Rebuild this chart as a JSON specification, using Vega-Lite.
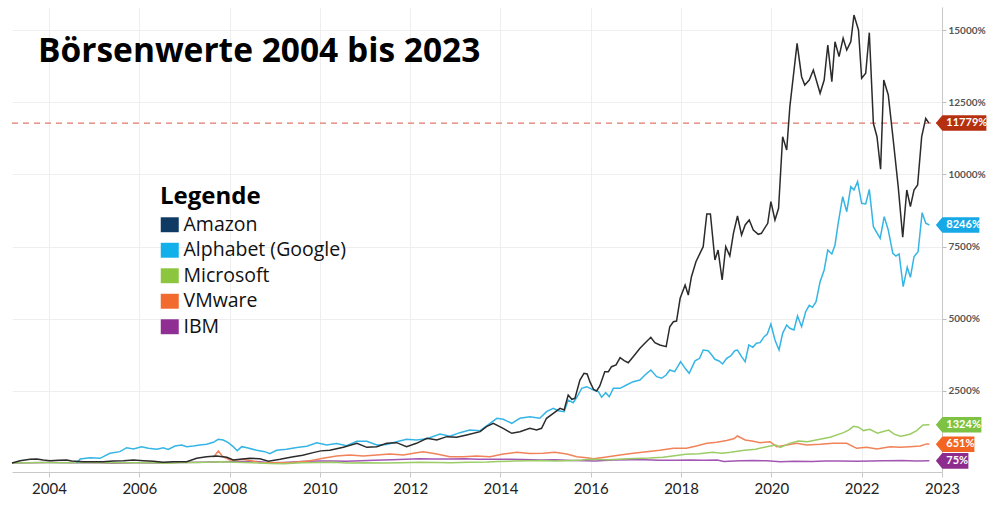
{
  "$schema": "https://vega.github.io/schema/vega-lite/v6.json",
  "width": 930,
  "height": 465,
  "autosize": "none",
  "padding": {"left": 12, "top": 7, "right": 58, "bottom": 34},
  "background": "white",
  "config": {
    "view": {"stroke": null},
    "font": "Lato"
  },
  "title": {
    "text": "Börsenwerte 2004 bis 2023",
    "anchor": "start",
    "frame": "group",
    "orient": "none",
    "font": "Open Sans",
    "fontSize": 33.5,
    "fontWeight": "bold",
    "color": "#000000",
    "baseline": "alphabetic",
    "offset": 0,
    "dx": 26,
    "dy": 55
  },
  "datasets": {
    "kurse": [
      {"company": "IBM", "year": 2003.18, "value": 0},
      {"company": "IBM", "year": 2003.6, "value": 10},
      {"company": "IBM", "year": 2004.0, "value": 15},
      {"company": "IBM", "year": 2004.5, "value": 10},
      {"company": "IBM", "year": 2005.0, "value": 15},
      {"company": "IBM", "year": 2005.4, "value": -5},
      {"company": "IBM", "year": 2005.9, "value": 5},
      {"company": "IBM", "year": 2006.4, "value": 0},
      {"company": "IBM", "year": 2006.9, "value": 20},
      {"company": "IBM", "year": 2007.4, "value": 30},
      {"company": "IBM", "year": 2007.8, "value": 40},
      {"company": "IBM", "year": 2008.3, "value": 50},
      {"company": "IBM", "year": 2008.6, "value": 55},
      {"company": "IBM", "year": 2008.9, "value": 5},
      {"company": "IBM", "year": 2009.2, "value": 20},
      {"company": "IBM", "year": 2009.6, "value": 50},
      {"company": "IBM", "year": 2009.95, "value": 65},
      {"company": "IBM", "year": 2010.3, "value": 65},
      {"company": "IBM", "year": 2010.6, "value": 60},
      {"company": "IBM", "year": 2010.9, "value": 80},
      {"company": "IBM", "year": 2011.2, "value": 95},
      {"company": "IBM", "year": 2011.6, "value": 115},
      {"company": "IBM", "year": 2011.9, "value": 130},
      {"company": "IBM", "year": 2012.2, "value": 145},
      {"company": "IBM", "year": 2012.5, "value": 135},
      {"company": "IBM", "year": 2012.9, "value": 140},
      {"company": "IBM", "year": 2013.2, "value": 150},
      {"company": "IBM", "year": 2013.5, "value": 130},
      {"company": "IBM", "year": 2013.9, "value": 130},
      {"company": "IBM", "year": 2014.2, "value": 130},
      {"company": "IBM", "year": 2014.5, "value": 125},
      {"company": "IBM", "year": 2014.9, "value": 100},
      {"company": "IBM", "year": 2015.2, "value": 110},
      {"company": "IBM", "year": 2015.6, "value": 90},
      {"company": "IBM", "year": 2015.9, "value": 80},
      {"company": "IBM", "year": 2016.1, "value": 70},
      {"company": "IBM", "year": 2016.5, "value": 100},
      {"company": "IBM", "year": 2016.9, "value": 110},
      {"company": "IBM", "year": 2017.2, "value": 115},
      {"company": "IBM", "year": 2017.5, "value": 95},
      {"company": "IBM", "year": 2017.9, "value": 95},
      {"company": "IBM", "year": 2018.2, "value": 105},
      {"company": "IBM", "year": 2018.5, "value": 95},
      {"company": "IBM", "year": 2018.8, "value": 100},
      {"company": "IBM", "year": 2018.95, "value": 55},
      {"company": "IBM", "year": 2019.3, "value": 80},
      {"company": "IBM", "year": 2019.6, "value": 85},
      {"company": "IBM", "year": 2019.9, "value": 75},
      {"company": "IBM", "year": 2020.2, "value": 40},
      {"company": "IBM", "year": 2020.5, "value": 60},
      {"company": "IBM", "year": 2020.9, "value": 55},
      {"company": "IBM", "year": 2021.2, "value": 65},
      {"company": "IBM", "year": 2021.5, "value": 70},
      {"company": "IBM", "year": 2021.9, "value": 60},
      {"company": "IBM", "year": 2022.2, "value": 70},
      {"company": "IBM", "year": 2022.5, "value": 75},
      {"company": "IBM", "year": 2022.9, "value": 85},
      {"company": "IBM", "year": 2023.2, "value": 65},
      {"company": "IBM", "year": 2023.5, "value": 75},

      {"company": "VMware", "year": 2007.64, "value": 196},
      {"company": "VMware", "year": 2007.75, "value": 416},
      {"company": "VMware", "year": 2007.85, "value": 220},
      {"company": "VMware", "year": 2008.01, "value": 104},
      {"company": "VMware", "year": 2008.16, "value": 104},
      {"company": "VMware", "year": 2008.31, "value": 128},
      {"company": "VMware", "year": 2008.45, "value": 90},
      {"company": "VMware", "year": 2008.67, "value": 10},
      {"company": "VMware", "year": 2008.89, "value": 5},
      {"company": "VMware", "year": 2009.34, "value": 10},
      {"company": "VMware", "year": 2009.78, "value": 80},
      {"company": "VMware", "year": 2010.07, "value": 162},
      {"company": "VMware", "year": 2010.37, "value": 243},
      {"company": "VMware", "year": 2010.66, "value": 277},
      {"company": "VMware", "year": 2010.96, "value": 243},
      {"company": "VMware", "year": 2011.26, "value": 277},
      {"company": "VMware", "year": 2011.55, "value": 312},
      {"company": "VMware", "year": 2011.85, "value": 277},
      {"company": "VMware", "year": 2012.14, "value": 358},
      {"company": "VMware", "year": 2012.29, "value": 393},
      {"company": "VMware", "year": 2012.59, "value": 312},
      {"company": "VMware", "year": 2012.88, "value": 220},
      {"company": "VMware", "year": 2013.18, "value": 220},
      {"company": "VMware", "year": 2013.47, "value": 243},
      {"company": "VMware", "year": 2013.77, "value": 220},
      {"company": "VMware", "year": 2014.06, "value": 312},
      {"company": "VMware", "year": 2014.36, "value": 370},
      {"company": "VMware", "year": 2014.65, "value": 330},
      {"company": "VMware", "year": 2014.95, "value": 340},
      {"company": "VMware", "year": 2015.2, "value": 370},
      {"company": "VMware", "year": 2015.47, "value": 312},
      {"company": "VMware", "year": 2015.69, "value": 220},
      {"company": "VMware", "year": 2015.91, "value": 185},
      {"company": "VMware", "year": 2016.06, "value": 150},
      {"company": "VMware", "year": 2016.35, "value": 210},
      {"company": "VMware", "year": 2016.65, "value": 280},
      {"company": "VMware", "year": 2016.94, "value": 335},
      {"company": "VMware", "year": 2017.24, "value": 390},
      {"company": "VMware", "year": 2017.53, "value": 440},
      {"company": "VMware", "year": 2017.83, "value": 508},
      {"company": "VMware", "year": 2018.12, "value": 508},
      {"company": "VMware", "year": 2018.34, "value": 589},
      {"company": "VMware", "year": 2018.57, "value": 682},
      {"company": "VMware", "year": 2018.79, "value": 720},
      {"company": "VMware", "year": 2019.01, "value": 780},
      {"company": "VMware", "year": 2019.18, "value": 850},
      {"company": "VMware", "year": 2019.25, "value": 936},
      {"company": "VMware", "year": 2019.42, "value": 797},
      {"company": "VMware", "year": 2019.57, "value": 762},
      {"company": "VMware", "year": 2019.75, "value": 704},
      {"company": "VMware", "year": 2019.97, "value": 739},
      {"company": "VMware", "year": 2020.12, "value": 566},
      {"company": "VMware", "year": 2020.34, "value": 624},
      {"company": "VMware", "year": 2020.56, "value": 682},
      {"company": "VMware", "year": 2020.78, "value": 624},
      {"company": "VMware", "year": 2021.08, "value": 647},
      {"company": "VMware", "year": 2021.37, "value": 682},
      {"company": "VMware", "year": 2021.67, "value": 682},
      {"company": "VMware", "year": 2021.89, "value": 508},
      {"company": "VMware", "year": 2022.11, "value": 543},
      {"company": "VMware", "year": 2022.34, "value": 485},
      {"company": "VMware", "year": 2022.63, "value": 566},
      {"company": "VMware", "year": 2022.85, "value": 543},
      {"company": "VMware", "year": 2023.07, "value": 566},
      {"company": "VMware", "year": 2023.3, "value": 589},
      {"company": "VMware", "year": 2023.44, "value": 662},
      {"company": "VMware", "year": 2023.5, "value": 651},

      {"company": "Microsoft", "year": 2003.18, "value": 0},
      {"company": "Microsoft", "year": 2003.5, "value": 10},
      {"company": "Microsoft", "year": 2003.9, "value": 15},
      {"company": "Microsoft", "year": 2004.3, "value": 10},
      {"company": "Microsoft", "year": 2004.9, "value": 15},
      {"company": "Microsoft", "year": 2005.3, "value": 5},
      {"company": "Microsoft", "year": 2005.9, "value": 10},
      {"company": "Microsoft", "year": 2006.3, "value": 10},
      {"company": "Microsoft", "year": 2006.6, "value": -5},
      {"company": "Microsoft", "year": 2006.9, "value": 20},
      {"company": "Microsoft", "year": 2007.3, "value": 15},
      {"company": "Microsoft", "year": 2007.8, "value": 45},
      {"company": "Microsoft", "year": 2008.1, "value": 30},
      {"company": "Microsoft", "year": 2008.5, "value": 10},
      {"company": "Microsoft", "year": 2008.9, "value": -20},
      {"company": "Microsoft", "year": 2009.2, "value": -30},
      {"company": "Microsoft", "year": 2009.6, "value": 5},
      {"company": "Microsoft", "year": 2010.0, "value": 20},
      {"company": "Microsoft", "year": 2010.3, "value": 25},
      {"company": "Microsoft", "year": 2010.6, "value": 0},
      {"company": "Microsoft", "year": 2011.0, "value": 10},
      {"company": "Microsoft", "year": 2011.4, "value": 0},
      {"company": "Microsoft", "year": 2011.8, "value": 10},
      {"company": "Microsoft", "year": 2012.2, "value": 30},
      {"company": "Microsoft", "year": 2012.6, "value": 20},
      {"company": "Microsoft", "year": 2012.9, "value": 10},
      {"company": "Microsoft", "year": 2013.3, "value": 25},
      {"company": "Microsoft", "year": 2013.7, "value": 35},
      {"company": "Microsoft", "year": 2013.95, "value": 50},
      {"company": "Microsoft", "year": 2014.3, "value": 65},
      {"company": "Microsoft", "year": 2014.6, "value": 80},
      {"company": "Microsoft", "year": 2014.9, "value": 90},
      {"company": "Microsoft", "year": 2015.2, "value": 70},
      {"company": "Microsoft", "year": 2015.5, "value": 80},
      {"company": "Microsoft", "year": 2015.8, "value": 100},
      {"company": "Microsoft", "year": 2016.0, "value": 130},
      {"company": "Microsoft", "year": 2016.4, "value": 110},
      {"company": "Microsoft", "year": 2016.7, "value": 140},
      {"company": "Microsoft", "year": 2016.95, "value": 160},
      {"company": "Microsoft", "year": 2017.3, "value": 175},
      {"company": "Microsoft", "year": 2017.6, "value": 200},
      {"company": "Microsoft", "year": 2017.9, "value": 260},
      {"company": "Microsoft", "year": 2018.1, "value": 300},
      {"company": "Microsoft", "year": 2018.4, "value": 320},
      {"company": "Microsoft", "year": 2018.7, "value": 370},
      {"company": "Microsoft", "year": 2018.9, "value": 340},
      {"company": "Microsoft", "year": 2019.1, "value": 370},
      {"company": "Microsoft", "year": 2019.4, "value": 440},
      {"company": "Microsoft", "year": 2019.65, "value": 480},
      {"company": "Microsoft", "year": 2019.95, "value": 580},
      {"company": "Microsoft", "year": 2020.1, "value": 620},
      {"company": "Microsoft", "year": 2020.2, "value": 540},
      {"company": "Microsoft", "year": 2020.4, "value": 680},
      {"company": "Microsoft", "year": 2020.6, "value": 760},
      {"company": "Microsoft", "year": 2020.8, "value": 740},
      {"company": "Microsoft", "year": 2020.99, "value": 800},
      {"company": "Microsoft", "year": 2021.3, "value": 890},
      {"company": "Microsoft", "year": 2021.6, "value": 1051},
      {"company": "Microsoft", "year": 2021.72, "value": 1150},
      {"company": "Microsoft", "year": 2021.82, "value": 1270},
      {"company": "Microsoft", "year": 2021.93, "value": 1240},
      {"company": "Microsoft", "year": 2022.04, "value": 1123},
      {"company": "Microsoft", "year": 2022.18, "value": 1168},
      {"company": "Microsoft", "year": 2022.35, "value": 1030},
      {"company": "Microsoft", "year": 2022.5, "value": 1100},
      {"company": "Microsoft", "year": 2022.6, "value": 1140},
      {"company": "Microsoft", "year": 2022.72, "value": 1000},
      {"company": "Microsoft", "year": 2022.86, "value": 930},
      {"company": "Microsoft", "year": 2022.95, "value": 950},
      {"company": "Microsoft", "year": 2023.08, "value": 1005},
      {"company": "Microsoft", "year": 2023.22, "value": 1123},
      {"company": "Microsoft", "year": 2023.36, "value": 1317},
      {"company": "Microsoft", "year": 2023.5, "value": 1324},

      {"company": "Alphabet (Google)", "year": 2004.61, "value": 0},
      {"company": "Alphabet (Google)", "year": 2004.69, "value": 139},
      {"company": "Alphabet (Google)", "year": 2004.91, "value": 185},
      {"company": "Alphabet (Google)", "year": 2005.13, "value": 162},
      {"company": "Alphabet (Google)", "year": 2005.35, "value": 335},
      {"company": "Alphabet (Google)", "year": 2005.57, "value": 393},
      {"company": "Alphabet (Google)", "year": 2005.72, "value": 531},
      {"company": "Alphabet (Google)", "year": 2005.87, "value": 485},
      {"company": "Alphabet (Google)", "year": 2006.05, "value": 566},
      {"company": "Alphabet (Google)", "year": 2006.2, "value": 508},
      {"company": "Alphabet (Google)", "year": 2006.39, "value": 473},
      {"company": "Alphabet (Google)", "year": 2006.53, "value": 531},
      {"company": "Alphabet (Google)", "year": 2006.64, "value": 473},
      {"company": "Alphabet (Google)", "year": 2006.79, "value": 589},
      {"company": "Alphabet (Google)", "year": 2006.94, "value": 624},
      {"company": "Alphabet (Google)", "year": 2007.05, "value": 566},
      {"company": "Alphabet (Google)", "year": 2007.2, "value": 589},
      {"company": "Alphabet (Google)", "year": 2007.34, "value": 624},
      {"company": "Alphabet (Google)", "year": 2007.49, "value": 647},
      {"company": "Alphabet (Google)", "year": 2007.64, "value": 716},
      {"company": "Alphabet (Google)", "year": 2007.75, "value": 820},
      {"company": "Alphabet (Google)", "year": 2007.86, "value": 797},
      {"company": "Alphabet (Google)", "year": 2007.97, "value": 704},
      {"company": "Alphabet (Google)", "year": 2008.08, "value": 566},
      {"company": "Alphabet (Google)", "year": 2008.17, "value": 427},
      {"company": "Alphabet (Google)", "year": 2008.27, "value": 566},
      {"company": "Alphabet (Google)", "year": 2008.41, "value": 520},
      {"company": "Alphabet (Google)", "year": 2008.6, "value": 440},
      {"company": "Alphabet (Google)", "year": 2008.78, "value": 393},
      {"company": "Alphabet (Google)", "year": 2008.89, "value": 320},
      {"company": "Alphabet (Google)", "year": 2009.04, "value": 440},
      {"company": "Alphabet (Google)", "year": 2009.26, "value": 480},
      {"company": "Alphabet (Google)", "year": 2009.49, "value": 540},
      {"company": "Alphabet (Google)", "year": 2009.71, "value": 580},
      {"company": "Alphabet (Google)", "year": 2009.93, "value": 704},
      {"company": "Alphabet (Google)", "year": 2010.15, "value": 624},
      {"company": "Alphabet (Google)", "year": 2010.37, "value": 676},
      {"company": "Alphabet (Google)", "year": 2010.59, "value": 600},
      {"company": "Alphabet (Google)", "year": 2010.82, "value": 750},
      {"company": "Alphabet (Google)", "year": 2011.04, "value": 750},
      {"company": "Alphabet (Google)", "year": 2011.26, "value": 624},
      {"company": "Alphabet (Google)", "year": 2011.48, "value": 640},
      {"company": "Alphabet (Google)", "year": 2011.7, "value": 739},
      {"company": "Alphabet (Google)", "year": 2011.92, "value": 820},
      {"company": "Alphabet (Google)", "year": 2012.14, "value": 797},
      {"company": "Alphabet (Google)", "year": 2012.37, "value": 840},
      {"company": "Alphabet (Google)", "year": 2012.66, "value": 1005},
      {"company": "Alphabet (Google)", "year": 2012.88, "value": 930},
      {"company": "Alphabet (Google)", "year": 2013.1, "value": 1051},
      {"company": "Alphabet (Google)", "year": 2013.32, "value": 1144},
      {"company": "Alphabet (Google)", "year": 2013.55, "value": 1120},
      {"company": "Alphabet (Google)", "year": 2013.77, "value": 1376},
      {"company": "Alphabet (Google)", "year": 2013.92, "value": 1549},
      {"company": "Alphabet (Google)", "year": 2014.06, "value": 1514},
      {"company": "Alphabet (Google)", "year": 2014.25, "value": 1376},
      {"company": "Alphabet (Google)", "year": 2014.43, "value": 1549},
      {"company": "Alphabet (Google)", "year": 2014.65, "value": 1604},
      {"company": "Alphabet (Google)", "year": 2014.87, "value": 1549},
      {"company": "Alphabet (Google)", "year": 2015.02, "value": 1778},
      {"company": "Alphabet (Google)", "year": 2015.17, "value": 1895},
      {"company": "Alphabet (Google)", "year": 2015.28, "value": 1812},
      {"company": "Alphabet (Google)", "year": 2015.41, "value": 1778},
      {"company": "Alphabet (Google)", "year": 2015.5, "value": 2183},
      {"company": "Alphabet (Google)", "year": 2015.61, "value": 2089},
      {"company": "Alphabet (Google)", "year": 2015.69, "value": 2277},
      {"company": "Alphabet (Google)", "year": 2015.8, "value": 2588},
      {"company": "Alphabet (Google)", "year": 2015.91, "value": 2644},
      {"company": "Alphabet (Google)", "year": 2016.06, "value": 2529},
      {"company": "Alphabet (Google)", "year": 2016.17, "value": 2471},
      {"company": "Alphabet (Google)", "year": 2016.24, "value": 2277},
      {"company": "Alphabet (Google)", "year": 2016.33, "value": 2436},
      {"company": "Alphabet (Google)", "year": 2016.41, "value": 2297},
      {"company": "Alphabet (Google)", "year": 2016.5, "value": 2588},
      {"company": "Alphabet (Google)", "year": 2016.65, "value": 2588},
      {"company": "Alphabet (Google)", "year": 2016.79, "value": 2703},
      {"company": "Alphabet (Google)", "year": 2016.94, "value": 2817},
      {"company": "Alphabet (Google)", "year": 2017.09, "value": 2876},
      {"company": "Alphabet (Google)", "year": 2017.2, "value": 3049},
      {"company": "Alphabet (Google)", "year": 2017.33, "value": 3222},
      {"company": "Alphabet (Google)", "year": 2017.46, "value": 2990},
      {"company": "Alphabet (Google)", "year": 2017.57, "value": 2935},
      {"company": "Alphabet (Google)", "year": 2017.67, "value": 3049},
      {"company": "Alphabet (Google)", "year": 2017.75, "value": 3222},
      {"company": "Alphabet (Google)", "year": 2017.86, "value": 3164},
      {"company": "Alphabet (Google)", "year": 2017.99, "value": 3510},
      {"company": "Alphabet (Google)", "year": 2018.09, "value": 3281},
      {"company": "Alphabet (Google)", "year": 2018.18, "value": 3108},
      {"company": "Alphabet (Google)", "year": 2018.31, "value": 3540},
      {"company": "Alphabet (Google)", "year": 2018.41, "value": 3628},
      {"company": "Alphabet (Google)", "year": 2018.49, "value": 3915},
      {"company": "Alphabet (Google)", "year": 2018.6, "value": 3891},
      {"company": "Alphabet (Google)", "year": 2018.68, "value": 3742},
      {"company": "Alphabet (Google)", "year": 2018.75, "value": 3593},
      {"company": "Alphabet (Google)", "year": 2018.84, "value": 3534},
      {"company": "Alphabet (Google)", "year": 2018.92, "value": 3430},
      {"company": "Alphabet (Google)", "year": 2019.01, "value": 3628},
      {"company": "Alphabet (Google)", "year": 2019.1, "value": 3707},
      {"company": "Alphabet (Google)", "year": 2019.19, "value": 3891},
      {"company": "Alphabet (Google)", "year": 2019.25, "value": 3915},
      {"company": "Alphabet (Google)", "year": 2019.34, "value": 3683},
      {"company": "Alphabet (Google)", "year": 2019.42, "value": 3510},
      {"company": "Alphabet (Google)", "year": 2019.5, "value": 4089},
      {"company": "Alphabet (Google)", "year": 2019.59, "value": 4009},
      {"company": "Alphabet (Google)", "year": 2019.67, "value": 4148},
      {"company": "Alphabet (Google)", "year": 2019.75, "value": 4169},
      {"company": "Alphabet (Google)", "year": 2019.84, "value": 4377},
      {"company": "Alphabet (Google)", "year": 2019.91, "value": 4470},
      {"company": "Alphabet (Google)", "year": 2019.99, "value": 4816},
      {"company": "Alphabet (Google)", "year": 2020.08, "value": 4262},
      {"company": "Alphabet (Google)", "year": 2020.17, "value": 3915},
      {"company": "Alphabet (Google)", "year": 2020.25, "value": 4494},
      {"company": "Alphabet (Google)", "year": 2020.34, "value": 4782},
      {"company": "Alphabet (Google)", "year": 2020.41, "value": 4667},
      {"company": "Alphabet (Google)", "year": 2020.5, "value": 4608},
      {"company": "Alphabet (Google)", "year": 2020.58, "value": 5094},
      {"company": "Alphabet (Google)", "year": 2020.67, "value": 4723},
      {"company": "Alphabet (Google)", "year": 2020.76, "value": 5243},
      {"company": "Alphabet (Google)", "year": 2020.84, "value": 5464},
      {"company": "Alphabet (Google)", "year": 2020.91, "value": 5395},
      {"company": "Alphabet (Google)", "year": 2020.99, "value": 5589},
      {"company": "Alphabet (Google)", "year": 2021.08, "value": 6282},
      {"company": "Alphabet (Google)", "year": 2021.17, "value": 6687},
      {"company": "Alphabet (Google)", "year": 2021.25, "value": 7380},
      {"company": "Alphabet (Google)", "year": 2021.34, "value": 7242},
      {"company": "Alphabet (Google)", "year": 2021.41, "value": 7554},
      {"company": "Alphabet (Google)", "year": 2021.48, "value": 8306},
      {"company": "Alphabet (Google)", "year": 2021.58, "value": 9227},
      {"company": "Alphabet (Google)", "year": 2021.67, "value": 8708},
      {"company": "Alphabet (Google)", "year": 2021.76, "value": 9574},
      {"company": "Alphabet (Google)", "year": 2021.83, "value": 9459},
      {"company": "Alphabet (Google)", "year": 2021.91, "value": 9748},
      {"company": "Alphabet (Google)", "year": 2022.0, "value": 8998},
      {"company": "Alphabet (Google)", "year": 2022.09, "value": 8974},
      {"company": "Alphabet (Google)", "year": 2022.17, "value": 9482},
      {"company": "Alphabet (Google)", "year": 2022.26, "value": 8188},
      {"company": "Alphabet (Google)", "year": 2022.41, "value": 7786},
      {"company": "Alphabet (Google)", "year": 2022.5, "value": 8535},
      {"company": "Alphabet (Google)", "year": 2022.59, "value": 8073},
      {"company": "Alphabet (Google)", "year": 2022.69, "value": 7266},
      {"company": "Alphabet (Google)", "year": 2022.76, "value": 7173},
      {"company": "Alphabet (Google)", "year": 2022.83, "value": 7242},
      {"company": "Alphabet (Google)", "year": 2022.92, "value": 6109},
      {"company": "Alphabet (Google)", "year": 2023.01, "value": 6781},
      {"company": "Alphabet (Google)", "year": 2023.08, "value": 6434},
      {"company": "Alphabet (Google)", "year": 2023.16, "value": 7148},
      {"company": "Alphabet (Google)", "year": 2023.25, "value": 7321},
      {"company": "Alphabet (Google)", "year": 2023.34, "value": 8673},
      {"company": "Alphabet (Google)", "year": 2023.42, "value": 8306},
      {"company": "Alphabet (Google)", "year": 2023.5, "value": 8246},

      {"company": "Amazon", "year": 2003.18, "value": 0},
      {"company": "Amazon", "year": 2003.36, "value": 80},
      {"company": "Amazon", "year": 2003.58, "value": 128},
      {"company": "Amazon", "year": 2003.73, "value": 139},
      {"company": "Amazon", "year": 2003.87, "value": 104},
      {"company": "Amazon", "year": 2004.02, "value": 80},
      {"company": "Amazon", "year": 2004.21, "value": 93},
      {"company": "Amazon", "year": 2004.39, "value": 104},
      {"company": "Amazon", "year": 2004.5, "value": 69},
      {"company": "Amazon", "year": 2004.76, "value": 45},
      {"company": "Amazon", "year": 2004.98, "value": 45},
      {"company": "Amazon", "year": 2005.2, "value": 45},
      {"company": "Amazon", "year": 2005.42, "value": 69},
      {"company": "Amazon", "year": 2005.65, "value": 80},
      {"company": "Amazon", "year": 2005.87, "value": 104},
      {"company": "Amazon", "year": 2006.09, "value": 80},
      {"company": "Amazon", "year": 2006.31, "value": 59},
      {"company": "Amazon", "year": 2006.53, "value": 24},
      {"company": "Amazon", "year": 2006.75, "value": 45},
      {"company": "Amazon", "year": 2007.05, "value": 45},
      {"company": "Amazon", "year": 2007.27, "value": 162},
      {"company": "Amazon", "year": 2007.49, "value": 220},
      {"company": "Amazon", "year": 2007.71, "value": 243},
      {"company": "Amazon", "year": 2007.94, "value": 196},
      {"company": "Amazon", "year": 2008.08, "value": 104},
      {"company": "Amazon", "year": 2008.23, "value": 128},
      {"company": "Amazon", "year": 2008.45, "value": 162},
      {"company": "Amazon", "year": 2008.67, "value": 150},
      {"company": "Amazon", "year": 2008.86, "value": 60},
      {"company": "Amazon", "year": 2009.12, "value": 130},
      {"company": "Amazon", "year": 2009.38, "value": 210},
      {"company": "Amazon", "year": 2009.62, "value": 270},
      {"company": "Amazon", "year": 2009.85, "value": 360},
      {"company": "Amazon", "year": 2010.02, "value": 420},
      {"company": "Amazon", "year": 2010.22, "value": 440},
      {"company": "Amazon", "year": 2010.52, "value": 543},
      {"company": "Amazon", "year": 2010.82, "value": 682},
      {"company": "Amazon", "year": 2011.04, "value": 543},
      {"company": "Amazon", "year": 2011.26, "value": 566},
      {"company": "Amazon", "year": 2011.48, "value": 682},
      {"company": "Amazon", "year": 2011.7, "value": 704},
      {"company": "Amazon", "year": 2011.92, "value": 566},
      {"company": "Amazon", "year": 2012.14, "value": 682},
      {"company": "Amazon", "year": 2012.37, "value": 856},
      {"company": "Amazon", "year": 2012.59, "value": 797},
      {"company": "Amazon", "year": 2012.81, "value": 913},
      {"company": "Amazon", "year": 2013.03, "value": 890},
      {"company": "Amazon", "year": 2013.25, "value": 970},
      {"company": "Amazon", "year": 2013.55, "value": 1085},
      {"company": "Amazon", "year": 2013.69, "value": 1258},
      {"company": "Amazon", "year": 2013.84, "value": 1376},
      {"company": "Amazon", "year": 2014.06, "value": 1202},
      {"company": "Amazon", "year": 2014.25, "value": 1029},
      {"company": "Amazon", "year": 2014.43, "value": 1085},
      {"company": "Amazon", "year": 2014.65, "value": 1202},
      {"company": "Amazon", "year": 2014.8, "value": 1144},
      {"company": "Amazon", "year": 2014.91, "value": 1202},
      {"company": "Amazon", "year": 2015.02, "value": 1549},
      {"company": "Amazon", "year": 2015.17, "value": 1722},
      {"company": "Amazon", "year": 2015.32, "value": 1895},
      {"company": "Amazon", "year": 2015.41, "value": 1836},
      {"company": "Amazon", "year": 2015.5, "value": 2356},
      {"company": "Amazon", "year": 2015.58, "value": 2207},
      {"company": "Amazon", "year": 2015.65, "value": 2242},
      {"company": "Amazon", "year": 2015.76, "value": 2876},
      {"company": "Amazon", "year": 2015.85, "value": 3108},
      {"company": "Amazon", "year": 2015.92, "value": 3084},
      {"company": "Amazon", "year": 2015.98, "value": 2817},
      {"company": "Amazon", "year": 2016.06, "value": 2554},
      {"company": "Amazon", "year": 2016.13, "value": 2495},
      {"company": "Amazon", "year": 2016.2, "value": 2668},
      {"company": "Amazon", "year": 2016.31, "value": 3164},
      {"company": "Amazon", "year": 2016.39, "value": 3164},
      {"company": "Amazon", "year": 2016.46, "value": 3337},
      {"company": "Amazon", "year": 2016.56, "value": 3396},
      {"company": "Amazon", "year": 2016.65, "value": 3649},
      {"company": "Amazon", "year": 2016.74, "value": 3545},
      {"company": "Amazon", "year": 2016.83, "value": 3475},
      {"company": "Amazon", "year": 2016.94, "value": 3683},
      {"company": "Amazon", "year": 2017.09, "value": 3974},
      {"company": "Amazon", "year": 2017.22, "value": 4182},
      {"company": "Amazon", "year": 2017.33, "value": 4356},
      {"company": "Amazon", "year": 2017.42, "value": 4169},
      {"company": "Amazon", "year": 2017.53, "value": 4089},
      {"company": "Amazon", "year": 2017.67, "value": 4030},
      {"company": "Amazon", "year": 2017.75, "value": 4723},
      {"company": "Amazon", "year": 2017.83, "value": 4896},
      {"company": "Amazon", "year": 2017.9, "value": 4920},
      {"company": "Amazon", "year": 2017.98, "value": 5707},
      {"company": "Amazon", "year": 2018.09, "value": 6168},
      {"company": "Amazon", "year": 2018.16, "value": 5821},
      {"company": "Amazon", "year": 2018.23, "value": 6455},
      {"company": "Amazon", "year": 2018.33, "value": 6975},
      {"company": "Amazon", "year": 2018.49, "value": 7495},
      {"company": "Amazon", "year": 2018.57, "value": 8628},
      {"company": "Amazon", "year": 2018.65, "value": 8628},
      {"company": "Amazon", "year": 2018.75, "value": 7034},
      {"company": "Amazon", "year": 2018.82, "value": 7380},
      {"company": "Amazon", "year": 2018.91, "value": 6341},
      {"company": "Amazon", "year": 2018.99, "value": 7495},
      {"company": "Amazon", "year": 2019.08, "value": 7173},
      {"company": "Amazon", "year": 2019.16, "value": 7959},
      {"company": "Amazon", "year": 2019.25, "value": 8559},
      {"company": "Amazon", "year": 2019.34, "value": 7900},
      {"company": "Amazon", "year": 2019.42, "value": 8247},
      {"company": "Amazon", "year": 2019.51, "value": 8420},
      {"company": "Amazon", "year": 2019.6, "value": 8073},
      {"company": "Amazon", "year": 2019.71, "value": 7924},
      {"company": "Amazon", "year": 2019.78, "value": 7959},
      {"company": "Amazon", "year": 2019.92, "value": 8306},
      {"company": "Amazon", "year": 2019.99, "value": 9054},
      {"company": "Amazon", "year": 2020.08, "value": 8420},
      {"company": "Amazon", "year": 2020.16, "value": 8826},
      {"company": "Amazon", "year": 2020.25, "value": 11306},
      {"company": "Amazon", "year": 2020.34, "value": 10845},
      {"company": "Amazon", "year": 2020.41, "value": 12346},
      {"company": "Amazon", "year": 2020.57, "value": 14542},
      {"company": "Amazon", "year": 2020.67, "value": 13385},
      {"company": "Amazon", "year": 2020.74, "value": 13098},
      {"company": "Amazon", "year": 2020.84, "value": 13271},
      {"company": "Amazon", "year": 2020.93, "value": 13618},
      {"company": "Amazon", "year": 2021.08, "value": 12810},
      {"company": "Amazon", "year": 2021.17, "value": 13271},
      {"company": "Amazon", "year": 2021.25, "value": 14484},
      {"company": "Amazon", "year": 2021.34, "value": 13213},
      {"company": "Amazon", "year": 2021.41, "value": 14598},
      {"company": "Amazon", "year": 2021.5, "value": 14079},
      {"company": "Amazon", "year": 2021.59, "value": 14716},
      {"company": "Amazon", "year": 2021.67, "value": 14310},
      {"company": "Amazon", "year": 2021.76, "value": 14598},
      {"company": "Amazon", "year": 2021.83, "value": 15523},
      {"company": "Amazon", "year": 2021.93, "value": 15003},
      {"company": "Amazon", "year": 2022.0, "value": 13329},
      {"company": "Amazon", "year": 2022.09, "value": 13503},
      {"company": "Amazon", "year": 2022.17, "value": 14910},
      {"company": "Amazon", "year": 2022.26, "value": 11771},
      {"company": "Amazon", "year": 2022.34, "value": 11306},
      {"company": "Amazon", "year": 2022.42, "value": 10177},
      {"company": "Amazon", "year": 2022.49, "value": 13271},
      {"company": "Amazon", "year": 2022.59, "value": 12751},
      {"company": "Amazon", "year": 2022.7, "value": 11192},
      {"company": "Amazon", "year": 2022.81, "value": 9574},
      {"company": "Amazon", "year": 2022.91, "value": 7820},
      {"company": "Amazon", "year": 2023.0, "value": 9459},
      {"company": "Amazon", "year": 2023.08, "value": 8881},
      {"company": "Amazon", "year": 2023.16, "value": 9459},
      {"company": "Amazon", "year": 2023.24, "value": 9633},
      {"company": "Amazon", "year": 2023.33, "value": 11306},
      {"company": "Amazon", "year": 2023.42, "value": 11944},
      {"company": "Amazon", "year": 2023.49, "value": 11779}
    ],
    "letzte": [
      {"company": "Amazon", "year": 2023.5, "value": 11779, "label": "11779%"},
      {"company": "Alphabet (Google)", "year": 2023.5, "value": 8246, "label": "8246%"},
      {"company": "Microsoft", "year": 2023.5, "value": 1324, "label": "1324%"},
      {"company": "VMware", "year": 2023.5, "value": 651, "label": "651%"},
      {"company": "IBM", "year": 2023.5, "value": 75, "label": "75%"}
    ]
  },
  "encoding": {
    "x": {
      "field": "year",
      "type": "quantitative",
      "scale": {"domain": [2003.18, 2023.78], "nice": false, "zero": false},
      "axis": {
        "title": null,
        "values": [2004, 2006, 2008, 2010, 2012, 2014, 2016, 2018, 2020, 2022, 2023.78],
        "format": "d",
        "labelExpr": "datum.value > 2023 ? '2023' : datum.label",
        "labelFont": "Lato",
        "labelFontSize": 15,
        "labelColor": "#222222",
        "labelPadding": 4,
        "labelFlush": false,
        "tickSize": 5,
        "tickColor": "#c8c8c8",
        "domainColor": "#c8c8c8",
        "grid": true,
        "gridColor": "#eeeeee",
        "gridWidth": 1
      }
    },
    "y": {
      "field": "value",
      "type": "quantitative",
      "scale": {"domain": [-312, 15800], "nice": false, "zero": false},
      "axis": {
        "title": null,
        "orient": "right",
        "values": [2500, 5000, 7500, 10000, 12500, 15000],
        "labelExpr": "datum.value + '%'",
        "labelFont": "Lato",
        "labelFontSize": 10,
        "labelFontWeight": "bold",
        "labelColor": "#555555",
        "labelPadding": 2,
        "tickSize": 4,
        "tickColor": "#bbbbbb",
        "domainColor": "#c8c8c8",
        "grid": true,
        "gridColor": "#eeeeee",
        "gridWidth": 1
      }
    }
  },
  "layer": [
    {
      "data": {"name": "letzte"},
      "transform": [{"filter": "datum.company === 'Amazon'"}],
      "mark": {"type": "rule", "strokeDash": [6, 5], "strokeWidth": 1.3, "color": "#d9614c", "opacity": 0.85},
      "encoding": {
        "x": null,
        "y": {"field": "value", "type": "quantitative"}
      }
    },
    {
      "data": {"name": "kurse"},
      "mark": {"type": "line", "strokeWidth": 1.5, "interpolate": "linear"},
      "encoding": {
        "stroke": {
          "field": "company",
          "type": "nominal",
          "scale": {
            "domain": ["IBM", "VMware", "Microsoft", "Alphabet (Google)", "Amazon"],
            "range": ["#a257b3", "#f0835a", "#9ccc65", "#35b5e5", "#2b2b2b"]
          },
          "legend": null
        }
      }
    },
    {
      "data": {"name": "letzte"},
      "mark": {"type": "point", "filled": true, "opacity": 0, "size": 1},
      "encoding": {
        "fill": {
          "field": "company",
          "type": "nominal",
          "scale": {
            "domain": ["Amazon", "Alphabet (Google)", "Microsoft", "VMware", "IBM"],
            "range": ["#0e3a63", "#12b0ea", "#8cc63f", "#f26a2e", "#8f2f93"]
          },
          "legend": {
            "title": "Legende",
            "orient": "none",
            "legendX": 148,
            "legendY": 178,
            "padding": 0,
            "titleFont": "Open Sans",
            "titleFontSize": 24,
            "titleFontWeight": "bold",
            "titleColor": "#000000",
            "titlePadding": 6,
            "labelFont": "Open Sans",
            "labelFontSize": 19.5,
            "labelColor": "#111111",
            "labelOffset": 4,
            "symbolType": "M-1,-0.83L1,-0.83L1,0.83L-1,0.83Z",
            "symbolSize": 324,
            "symbolOpacity": 1,
            "symbolStrokeWidth": 0,
            "rowPadding": 4.5,
            "labelLimit": 400
          }
        }
      }
    },
    {
      "data": {"name": "letzte"},
      "mark": {"type": "point", "filled": true, "size": 400, "opacity": 1, "strokeWidth": 0},
      "encoding": {
        "shape": {
          "field": "company",
          "type": "nominal",
          "scale": {
            "domain": ["IBM", "VMware", "Microsoft", "Alphabet (Google)", "Amazon"],
            "range": [
              "M0.65,0L1.3,-0.78L3.9,-0.78L3.9,0.78L1.3,0.78Z",
              "M0.65,0L1.3,-0.78L4.5,-0.78L4.5,0.78L1.3,0.78Z",
              "M0.65,0L1.3,-0.78L5.2,-0.78L5.2,0.78L1.3,0.78Z",
              "M0.65,0L1.3,-0.78L5.0,-0.78L5.0,0.78L1.3,0.78Z",
              "M0.65,0L1.3,-0.78L5.7,-0.78L5.7,0.78L1.3,0.78Z"
            ]
          },
          "legend": null
        },
        "color": {
          "field": "company",
          "type": "nominal",
          "scale": {
            "domain": ["IBM", "VMware", "Microsoft", "Alphabet (Google)", "Amazon"],
            "range": ["#8e2c8e", "#f26522", "#7dc242", "#16a9e6", "#b5300f"]
          },
          "legend": null
        }
      }
    },
    {
      "data": {"name": "letzte"},
      "mark": {"type": "text", "align": "left", "baseline": "middle", "dx": 17, "font": "Lato", "fontSize": 11, "fontWeight": "bold", "fill": "#ffffff"},
      "encoding": {
        "text": {"field": "label"}
      }
    }
  ]
}
